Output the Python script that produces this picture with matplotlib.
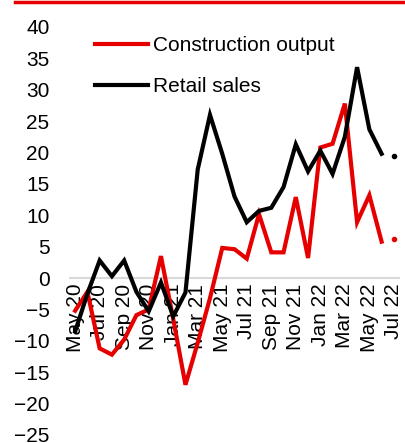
import numpy as np
import matplotlib
matplotlib.use("Agg")
import matplotlib.pyplot as plt
from matplotlib.lines import Line2D

plt.rcParams['font.family'] = ['Liberation Sans', 'DejaVu Sans']

months = ['May 20', 'Jun 20', 'Jul 20', 'Aug 20', 'Sep 20', 'Oct 20', 'Nov 20',
          'Dec 20', 'Jan 21', 'Feb 21', 'Mar 21', 'Apr 21', 'May 21', 'Jun 21',
          'Jul 21', 'Aug 21', 'Sep 21', 'Oct 21', 'Nov 21', 'Dec 21', 'Jan 22',
          'Feb 22', 'Mar 22', 'Apr 22', 'May 22', 'Jun 22', 'Jul 22']

construction = [-5.2, -2.2, -11.2, -12.2, -9.8, -5.9, -5.0, 3.5, -6.5, -17.0,
                -10.3, -3.2, 4.8, 4.6, 3.1, 10.2, 4.1, 4.1, 12.9, 3.2, 20.8,
                21.4, 27.8, 8.9, 13.2, 5.8]
construction_latest = 6.2

retail = [-8.5, -2.5, 2.8, 0.3, 2.8, -2.2, -5.3, -0.7, -6.1, -2.3, 17.3, 26.0,
          19.8, 13.0, 8.9, 10.7, 11.2, 14.5, 21.3, 17.0, 20.3, 16.6, 22.5, 33.6,
          23.7, 19.8]
retail_latest = 19.4

RED = '#E60000'

fig = plt.figure(figsize=(4.06, 4.43), dpi=100)
ax = fig.add_axes([69 / 406, 8 / 443, 331 / 406, 408 / 443])

x = np.arange(len(months))
n = len(construction)

ax.axhline(0, color='#D9D9D9', lw=1.5, zorder=0)
ax.plot(x[:n], construction, color=RED, lw=3, label='Construction output',
        solid_joinstyle='miter')
ax.plot(x[:n], retail, color='black', lw=3, label='Retail sales',
        solid_joinstyle='miter')
ax.plot(x[n], construction_latest, 'o', color=RED, ms=3)
ax.plot(x[n], retail_latest, 'o', color='black', ms=3)

for s in ['top', 'right', 'left']:
    ax.spines[s].set_visible(False)
# x axis crosses at zero; set this before the tick labels (it resets ticks)
ax.spines['bottom'].set_position(('data', 0))
ax.spines['bottom'].set_color('none')
ax.set_axisbelow(True)  # lines are drawn over the month labels

ax.set_xlim(-0.5, len(months) - 0.5)
ax.set_ylim(-25, 40)
ax.set_yticks(np.arange(-25, 41, 5))
ax.set_xticks(x[::2])
ax.set_xticklabels(months[::2])
ax.tick_params(axis='y', length=0, pad=14, labelsize=15)
ax.tick_params(axis='x', length=0, pad=4, labelsize=15, labelrotation=90)

ax.legend(loc='upper left', bbox_to_anchor=(95 / 406, 1 - 36 / 443),
          bbox_transform=fig.transFigure, frameon=False, fontsize=15,
          handlelength=2.55, handletextpad=0.25, labelspacing=1.05,
          borderaxespad=0, borderpad=0)

fig.add_artist(Line2D([15 / 406, 1], [1 - 2 / 443] * 2, color=RED, lw=2.5))

fig.savefig('out.png', dpi=100)
